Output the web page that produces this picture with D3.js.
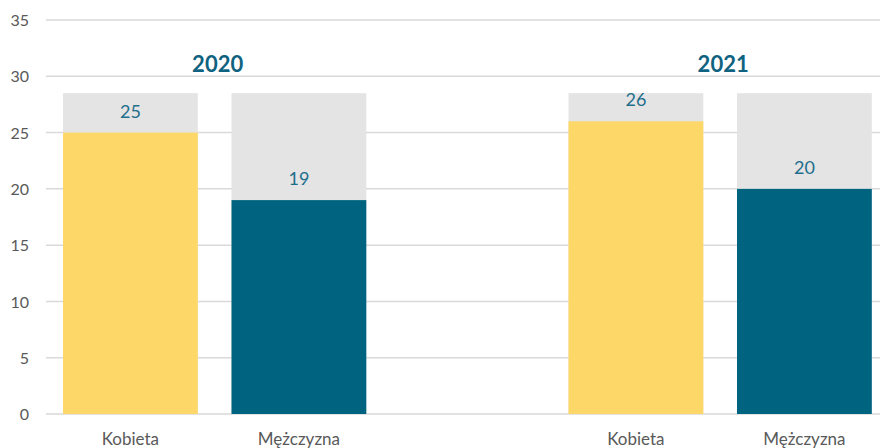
<!DOCTYPE html>
<html><head><meta charset="utf-8">
<script src="https://cdn.jsdelivr.net/npm/d3@7"></script>
<style>body{margin:0;background:#fff}svg{display:block}</style>
</head><body>
<svg id="c" width="880" height="448"></svg>
<script>
const years = ["2020", "2021"];
const genders = ["Kobieta", "Mężczyzna"];
const values2020 = [25, 19];
const values2021 = [26, 20];
const backgroundValue = 28.5;
const yTicks = [0, 5, 10, 15, 20, 25, 30, 35];
const colors = ["#FDD868", "#00637F"];

const seriesByYear = {"2020": values2020, "2021": values2021};
const svg = d3.select("#c");
const font = "Lato, 'Open Sans', sans-serif";

const y = d3.scaleLinear().domain([0, 35]).range([414, 20]);
const x0 = d3.scaleBand().domain(years).range([46.15, 888.65]).paddingInner(1/3).paddingOuter(0);
const x1 = d3.scaleBand().domain(genders).range([0, x0.bandwidth()]).paddingInner(0.2).paddingOuter(0.1);

// gridlines
svg.append("g").selectAll("line").data(yTicks).join("line")
  .attr("x1", 46).attr("x2", 880)
  .attr("y1", d => y(d)).attr("y2", d => y(d))
  .attr("stroke", "#d9d9d9").attr("stroke-width", 1.5);

// y axis labels
const yAxis = d3.axisLeft(y).tickValues(yTicks).tickSize(0).tickPadding(0);
const ya = svg.append("g").attr("transform", "translate(29,0)").call(yAxis);
ya.select(".domain").remove();
ya.selectAll("text").attr("font-family", font).attr("font-size", 16).attr("fill", "#595959").attr("dy", "0.35em");

const groups = svg.append("g").selectAll("g").data(years).join("g")
  .attr("transform", d => `translate(${x0(d)},0)`);

// background bars
groups.selectAll("rect.bg").data(d => genders.map(g => ({g, v: backgroundValue}))).join("rect")
  .attr("class", "bg")
  .attr("x", d => x1(d.g)).attr("width", x1.bandwidth())
  .attr("y", d => y(d.v)).attr("height", d => y(0) - y(d.v))
  .attr("fill", "#E4E4E4");

// value bars
groups.selectAll("rect.val").data(yr => genders.map((g, i) => ({g, i, v: seriesByYear[yr][i]}))).join("rect")
  .attr("class", "val")
  .attr("x", d => x1(d.g)).attr("width", x1.bandwidth())
  .attr("y", d => y(d.v)).attr("height", d => y(0) - y(d.v))
  .attr("fill", d => colors[d.i]);

// value labels
groups.selectAll("text.vl").data(yr => genders.map((g, i) => ({g, i, v: seriesByYear[yr][i]}))).join("text")
  .attr("class", "vl")
  .attr("x", d => x1(d.g) + x1.bandwidth() / 2)
  .attr("y", d => y(d.v) - 15)
  .attr("text-anchor", "middle")
  .attr("font-family", font).attr("font-size", 18)
  .attr("fill", "#1F6E8C")
  .text(d => d.v);

// category labels
groups.selectAll("text.cat").data(genders).join("text")
  .attr("class", "cat")
  .attr("x", d => x1(d) + x1.bandwidth() / 2)
  .attr("y", 445)
  .attr("text-anchor", "middle")
  .attr("font-family", font).attr("font-size", 17)
  .attr("fill", "#595959")
  .text(d => d);

// year labels
groups.append("text")
  .attr("x", x0.bandwidth() / 2 + 3)
  .attr("y", y(30) - 4.5)
  .attr("text-anchor", "middle")
  .attr("font-family", font).attr("font-size", 22).attr("font-weight", "bold")
  .attr("fill", "#0F6380")
  .text(d => d);
</script>
</body></html>
